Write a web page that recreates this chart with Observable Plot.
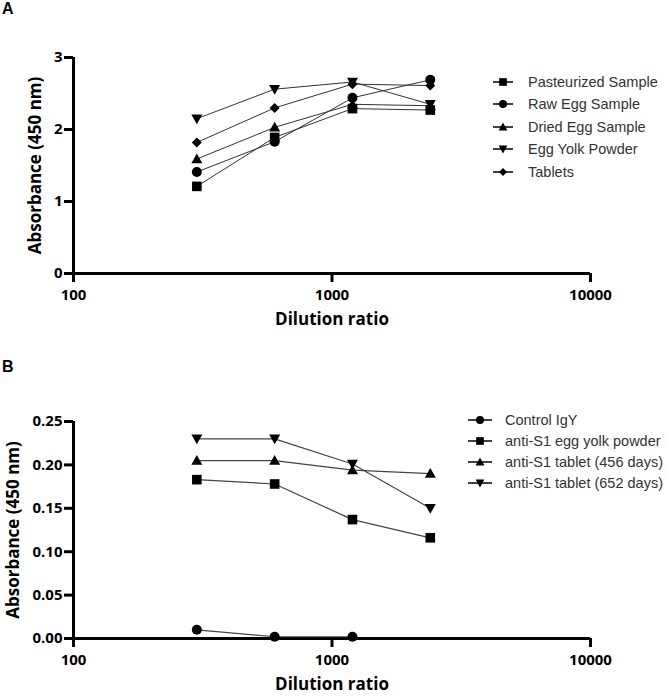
<!DOCTYPE html>
<html>
<head>
<meta charset="utf-8">
<script src="https://cdn.jsdelivr.net/npm/d3@7"></script>
<script src="https://cdn.jsdelivr.net/npm/@observablehq/plot@0.6"></script>
<style>
  body { margin: 0; background: #fff; }
  #fig { position: relative; width: 667px; height: 697px; background: #fff; }
  #fig svg { display: block; }
  .tag { position: absolute; font: bold 16px "Liberation Sans", Arial, sans-serif; color: #000; line-height: 16px; }
  .legend { position: absolute; font: 14.5px "Liberation Sans", Arial, sans-serif; color: #333; }
  .legend .row { display: flex; align-items: center; white-space: nowrap; }
  .legend svg { display: block; overflow: visible; }
</style>
</head>
<body>
<div id="fig"></div>
<script>
// Dilution ratios shared by both panels
const dilutions = [300, 600, 1200, 2400];
const xTicks = [100, 1000, 10000];

// Panel A: absorbance of each sample type
const seriesA = ["Pasteurized Sample", "Raw Egg Sample", "Dried Egg Sample", "Egg Yolk Powder", "Tablets"];
const pasteurized = [1.21, 1.89, 2.29, 2.27];
const rawEgg      = [1.41, 1.83, 2.44, 2.69];
const driedEgg    = [1.59, 2.03, 2.35, 2.33];
const yolkPowder  = [2.15, 2.56, 2.66, 2.35];
const tablets     = [1.82, 2.30, 2.63, 2.61];
const yTicksA = [0, 1, 2, 3];

// Panel B: anti-S1 binding over storage time
const seriesB = ["Control IgY", "anti-S1 egg yolk powder", "anti-S1 tablet (456 days)", "anti-S1 tablet (652 days)"];
const controlIgY = [0.010, 0.002, 0.002];
const antiS1Yolk = [0.183, 0.178, 0.137, 0.116];
const tablet456  = [0.205, 0.205, 0.194, 0.190];
const tablet652  = [0.230, 0.230, 0.201, 0.150];
const yTicksB = [0, 0.05, 0.10, 0.15, 0.20, 0.25];

// Marker shapes; r is the half-extent of each glyph
const rOf = size => Math.sqrt(size / Math.PI);
const symSquare = { draw(c, size) { const h = rOf(size) * 0.96; c.rect(-h, -h, 2 * h, 2 * h); } };
const symCircle = { draw(c, size) { const h = rOf(size); c.moveTo(h, 0); c.arc(0, 0, h, 0, 2 * Math.PI); } };
const symTriUp = { draw(c, size) { const h = rOf(size); c.moveTo(0, -h * 1.1); c.lineTo(h * 1.1, h * 0.85); c.lineTo(-h * 1.1, h * 0.85); c.closePath(); } };
const symTriDown = { draw(c, size) { const h = rOf(size); c.moveTo(0, h * 1.1); c.lineTo(h * 1.1, -h * 0.85); c.lineTo(-h * 1.1, -h * 0.85); c.closePath(); } };
const symDiamond = { draw(c, size) { const h = rOf(size) * 1.0; c.moveTo(0, -h); c.lineTo(h, 0); c.lineTo(0, h); c.lineTo(-h, 0); c.closePath(); } };

const symbolsA = [symSquare, symCircle, symTriUp, symTriDown, symDiamond];
const symbolsB = [symCircle, symSquare, symTriUp, symTriDown];

function toRows(names, valueSets) {
  return names.flatMap((name, i) => valueSets[i].map((v, j) => ({ series: name, dilution: dilutions[j], value: v })));
}
const rowsA = toRows(seriesA, [pasteurized, rawEgg, driedEgg, yolkPowder, tablets]);
const rowsB = toRows(seriesB, [controlIgY, antiS1Yolk, tablet456, tablet652]);

const W = 667;
const fontAxis = '"Open Sans", "Liberation Sans", Arial, sans-serif';

function panel({ rows, names, symbols, yDomain, yTicks, yFormat, height, marginTop, marginBottom, titleDx, lineColor, lineWidth }) {
  return Plot.plot({
    width: W,
    height,
    marginLeft: 73,
    marginRight: 77,
    marginTop,
    marginBottom,
    style: { fontFamily: fontAxis, fontSize: "15px", fontWeight: 700, color: "#000", background: "#fff", overflow: "visible" },
    x: { type: "log", domain: [100, 10000] },
    y: { domain: yDomain },
    marks: [
      Plot.axisX({ ticks: xTicks, tickFormat: d3.format("d"), tickSize: 9, tickPadding: 7, strokeWidth: 3, label: null, fontSize: 15, fontWeight: 700 }),
      Plot.axisY({ ticks: yTicks, tickFormat: yFormat, tickSize: 9, tickPadding: 2, strokeWidth: 3, label: null, fontSize: 15, fontWeight: 700 }),
      Plot.ruleY([0], { strokeWidth: 3, stroke: "#000" }),
      Plot.ruleX([100], { strokeWidth: 3, stroke: "#000" }),
      Plot.line(rows, { x: "dilution", y: "value", z: "series", stroke: lineColor, strokeWidth: lineWidth }),
      ...names.map((name, i) => Plot.dot(rows.filter(d => d.series === name), {
        x: "dilution", y: "value", symbol: symbols[i], r: 5, fill: "#000", stroke: "none"
      })),
      Plot.text(["Dilution ratio"], { text: d => d, frameAnchor: "bottom", dy: 51, fontSize: 17, fontWeight: 700, fill: "#000" }),
      Plot.text(["Absorbance (450 nm)"], {
        text: d => d, frameAnchor: "left", textAnchor: "middle", lineAnchor: "middle",
        rotate: -90, dx: titleDx, fontSize: 17, fontWeight: 700, fill: "#000"
      })
    ]
  });
}

const fig = d3.select("#fig");

const plotA = panel({
  rows: rowsA, names: seriesA, symbols: symbolsA,
  yDomain: [0, 3], yTicks: yTicksA, yFormat: d3.format("d"),
  height: 340, marginTop: 57, marginBottom: 67, titleDx: -38,
  lineColor: "#333", lineWidth: 1
});
const plotB = panel({
  rows: rowsB, names: seriesB, symbols: symbolsB,
  yDomain: [0, 0.25], yTicks: yTicksB, yFormat: d3.format(".2f"),
  height: 357, marginTop: 81, marginBottom: 59, titleDx: -60,
  lineColor: "#444", lineWidth: 1.2
});
fig.node().append(plotA, plotB);

// Panel tags
fig.append("div").attr("class", "tag").style("left", "2px").style("top", "1px").text("A");
fig.append("div").attr("class", "tag").style("left", "2px").style("top", "359px").text("B");

// Legends: a short line through each series marker
function legend(names, symbols, { left, top, rowH, lineW, gap }) {
  const box = fig.append("div").attr("class", "legend").style("left", left + "px").style("top", top + "px");
  names.forEach((name, i) => {
    const row = box.append("div").attr("class", "row").style("height", rowH + "px");
    const svg = row.append("svg").attr("width", lineW).attr("height", 14);
    svg.append("line").attr("x1", 0).attr("x2", lineW).attr("y1", 7).attr("y2", 7).attr("stroke", "#000").attr("stroke-width", 1.5);
    svg.append("path").attr("transform", `translate(${lineW / 2},7)`)
      .attr("d", d3.symbol().type(symbols[i]).size(Math.PI * 16)()).attr("fill", "#000");
    row.append("span").style("margin-left", gap + "px").text(name);
  });
}
legend(seriesA, symbolsA, { left: 493, top: 70.5, rowH: 22.5, lineW: 20, gap: 15 });
legend(seriesB, symbolsB, { left: 468, top: 409.5, rowH: 21, lineW: 24, gap: 13 });
</script>
</body>
</html>
